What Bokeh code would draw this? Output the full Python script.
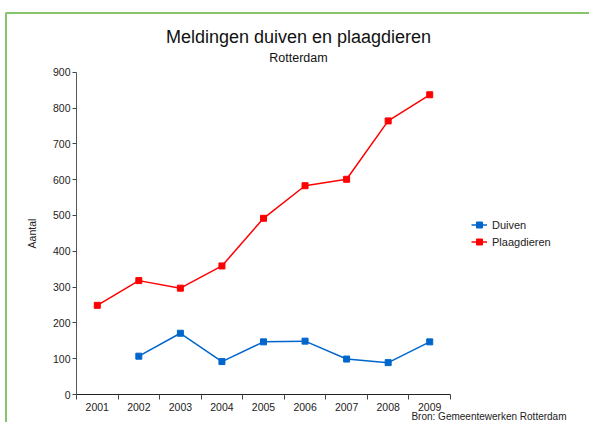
import numpy as np
from bokeh.plotting import figure
from bokeh.models import FixedTicker, Legend, LegendItem, Label, BoxAnnotation
from bokeh.embed import file_html
from bokeh.resources import INLINE

years = ["2001", "2002", "2003", "2004", "2005", "2006", "2007", "2008", "2009"]
duiven = [np.nan, 107, 171, 92, 147, 149, 99, 89, 147]
plaagdieren = [249, 318, 297, 359, 492, 583, 601, 764, 837]
y_ticks = [0, 100, 200, 300, 400, 500, 600, 700, 800, 900]

FONT = "Liberation Sans"
BLUE = "#0066CC"
RED = "#FF0000"
GREEN = "#86C66B"

x = list(range(1, len(years) + 1))
X0, X1 = 0.5, len(years) + 0.5
Y0, Y1 = 0, 900

# canvas size and where the axes box lies on it (pixels)
W, H = 589, 422
AX_L, AX_R, AX_T, AX_B = 76.0, 450.0, 71.7, 394.0
kx = (X1 - X0) / (AX_R - AX_L)
ky = (Y1 - Y0) / (AX_B - AX_T)
def dx(px):
    return X0 + (px - AX_L) * kx
def dy(py):
    return Y0 + (AX_B - py) * ky

p = figure(width=W, height=H, x_range=(dx(0), dx(W)), y_range=(dy(H), dy(0)),
           output_backend="svg", toolbar_location=None,
           min_border_left=0, min_border_right=0, min_border_top=0, min_border_bottom=0)
p.outline_line_color = None
p.xgrid.visible = False
p.ygrid.visible = False
p.background_fill_color = "white"
p.border_fill_color = "white"

l1 = p.line(x, duiven, line_color=BLUE, line_width=1.5)
s1 = p.scatter(x, duiven, marker="square", size=6, fill_color=BLUE, line_color=BLUE)
l2 = p.line(x, plaagdieren, line_color=RED, line_width=1.5)
s2 = p.scatter(x, plaagdieren, marker="square", size=6, fill_color=RED, line_color=RED)

# x axis
xa = p.xaxis[0]
xa.fixed_location = Y0
xa.bounds = (X0, X1)
xa.ticker = FixedTicker(ticks=x, minor_ticks=[i + 0.5 for i in range(0, len(years) + 1)])
xa.major_label_overrides = {i: y for i, y in zip(x, years)}
xa.major_tick_out = 0
xa.major_tick_in = 0
xa.minor_tick_out = 5
xa.minor_tick_in = 0
xa.minor_tick_line_color = "#444444"
xa.axis_line_color = "#222222"
xa.major_label_standoff = 3
xa.major_label_text_font = FONT
xa.major_label_text_font_size = "10.5px"
xa.major_label_text_color = "#222222"

# y axis
ya = p.yaxis[0]
ya.fixed_location = X0
ya.bounds = (Y0, Y1)
ya.ticker = FixedTicker(ticks=y_ticks, minor_ticks=[])
ya.major_tick_out = 4
ya.major_tick_in = 0
ya.major_tick_line_color = "#444444"
ya.axis_line_color = "#555555"
ya.major_label_standoff = 2
ya.major_label_text_font = FONT
ya.major_label_text_font_size = "10.5px"
ya.major_label_text_color = "#222222"
ya.axis_label = "Aantal"
ya.axis_label_text_font = FONT
ya.axis_label_text_font_size = "10.5px"
ya.axis_label_text_font_style = "normal"
ya.axis_label_text_color = "#222222"
ya.axis_label_standoff = 12

legend = Legend(items=[LegendItem(label="Duiven", renderers=[l1, s1]),
                       LegendItem(label="Plaagdieren", renderers=[l2, s2])],
                location=(471, 173), margin=0, padding=10,
                glyph_width=16, glyph_height=15, spacing=2, label_standoff=5,
                label_text_font=FONT, label_text_font_size="11px",
                label_text_color="#222222",
                border_line_color=None, background_fill_alpha=0)
p.add_layout(legend)

border = BoxAnnotation(left=dx(5.5), right=dx(W + 50), top=dy(12.5), bottom=dy(H + 50),
                       fill_alpha=0, line_color=GREEN, line_alpha=1.0, line_width=2)
p.add_layout(border)

title = Label(x=dx(298), y=dy(36),
              text="Meldingen duiven en plaagdieren", text_font=FONT,
              text_font_size="18px", text_align="center", text_baseline="middle",
              text_color="#111111")
sub = Label(x=dx(298), y=dy(57),
            text="Rotterdam", text_font=FONT,
            text_font_size="12.5px", text_align="center", text_baseline="middle",
            text_color="#111111")
bron = Label(x=dx(566), y=dy(416),
             text="Bron: Gemeentewerken Rotterdam", text_font=FONT,
             text_font_size="10px", text_align="right", text_baseline="middle",
             text_color="#222222")
p.add_layout(title)
p.add_layout(sub)
p.add_layout(bron)

open("out.html", "w").write(file_html(p, INLINE))
